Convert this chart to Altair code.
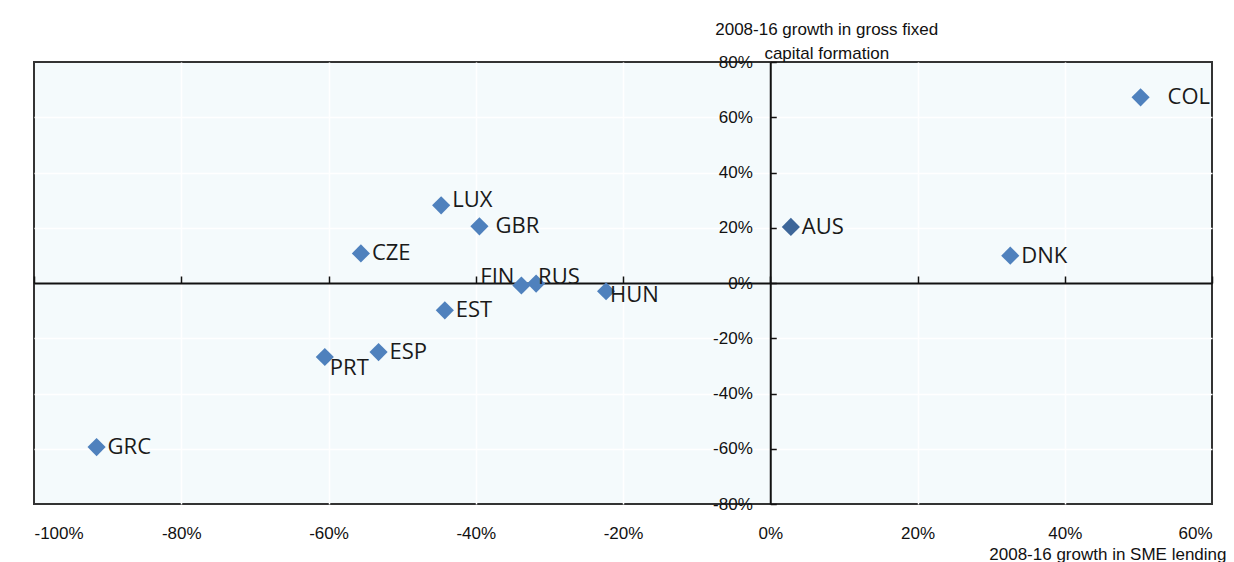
import altair as alt
import pandas as pd

# ---- data ----
countries = ["LUX", "GBR", "CZE", "FIN", "RUS", "HUN", "AUS", "DNK", "COL", "EST", "ESP", "PRT", "GRC"]
sme_lending_growth = [-44.7, -39.5, -55.6, -33.8, -31.8, -22.3, 2.8, 32.6, 50.3, -44.2, -53.2, -60.5, -91.5]
gfcf_growth = [28.1, 20.5, 10.7, -0.9, -0.2, -3.0, 20.3, 9.9, 67.2, -9.9, -25.0, -26.8, -59.4]

x_ticks = [-100, -80, -60, -40, -20, 0, 20, 40, 60]
y_ticks = [-80, -60, -40, -20, 0, 20, 40, 60, 80]
x_grid = [-80, -60, -40, -20, 20, 40]
y_grid = [-60, -40, -20, 20, 40, 60]
highlighted = ["AUS"]

x_title = "2008-16 growth in SME lending"
y_title = ["2008-16 growth in gross fixed", "capital formation"]

df = pd.DataFrame({"country": countries, "x": sme_lending_growth, "y": gfcf_growth})

W, H = 1178, 442
X_DOMAIN = [-100, 60]
Y_DOMAIN = [-80, 80]
X0 = W * (0 - X_DOMAIN[0]) / (X_DOMAIN[1] - X_DOMAIN[0])
Y0 = H * (Y_DOMAIN[1] - 0) / (Y_DOMAIN[1] - Y_DOMAIN[0])

AXIS_FONT = "Liberation Sans, Arial, sans-serif"
AXIS_SIZE = 17
LABEL_FONT = "Open Sans, Noto Sans, sans-serif"
pct = "datum.value + '%'"

xs = alt.Scale(domain=X_DOMAIN, nice=False, zero=False)
ys = alt.Scale(domain=Y_DOMAIN, nice=False, zero=False)

base = alt.Chart(df)

# grid-only layer
grid_layer = base.mark_point(opacity=0).encode(
    x=alt.X("x:Q", scale=xs, axis=alt.Axis(values=x_grid, grid=True, gridColor="white", gridWidth=1.5,
                                            labels=False, ticks=False, domain=False, title=None, orient="bottom")),
    y=alt.Y("y:Q", scale=ys, axis=alt.Axis(values=y_grid, grid=True, gridColor="white", gridWidth=1.5,
                                            labels=False, ticks=False, domain=False, title=None, orient="left")),
)

# labels + titles layer with the points
points = base.mark_point(shape="diamond", filled=True, size=330, opacity=1).encode(
    x=alt.X("x:Q", scale=xs, axis=alt.Axis(
        orient="bottom", values=x_ticks, labelExpr=pct, grid=False, ticks=False, tickSize=0, domain=False,
        labelFont=AXIS_FONT, labelFontSize=AXIS_SIZE, labelColor="#111", labelPadding=21,
        title=x_title, titleFont=AXIS_FONT, titleFontSize=AXIS_SIZE, titleFontWeight="normal", titleColor="#111",
        titleAlign="right", titleBaseline="middle", titleX=1192, titleY=50)),
    y=alt.Y("y:Q", scale=ys, axis=alt.Axis(
        orient="left", offset=-X0, values=y_ticks, labelExpr=pct, grid=False, ticks=False, tickSize=0,
        domain=False, labelFont=AXIS_FONT, labelFontSize=AXIS_SIZE, labelColor="#111", labelPadding=18,
        title=y_title, titleFont=AXIS_FONT, titleFontSize=AXIS_SIZE, titleFontWeight="normal", titleColor="#111",
        titleAngle=0, titleAlign="center", titleBaseline="alphabetic", titleLineHeight=24,
        titleX=56, titleY=-28)),
    color=alt.condition(alt.FieldOneOfPredicate(field="country", oneOf=highlighted),
                        alt.value("#3d6699"), alt.value("#4f81bd")),
)

# zero axes with ticks
tick_layer = base.mark_point(opacity=0).encode(
    x=alt.X("x:Q", scale=xs, axis=alt.Axis(
        orient="top", offset=-Y0, values=x_ticks, labels=False, grid=False, ticks=True, tickSize=7,
        tickColor="#111", tickWidth=1.5, domain=True, domainColor="#111", domainWidth=2, title=None)),
    y=alt.Y("y:Q", scale=ys, axis=alt.Axis(
        orient="right", offset=-(W - X0), values=y_ticks, labels=False, grid=False, ticks=True, tickSize=6,
        tickColor="#111", tickWidth=1.5, domain=True, domainColor="#111", domainWidth=2, title=None)),
)


def labels(names, **kw):
    props = dict(font=LABEL_FONT, fontSize=22, color="#1a1a1a", align="left", baseline="middle", clip=True)
    props.update(kw)
    return base.transform_filter(
        alt.FieldOneOfPredicate(field="country", oneOf=names)
    ).mark_text(**props).encode(
        x=alt.X("x:Q", scale=xs, axis=None),
        y=alt.Y("y:Q", scale=ys, axis=None),
        text="country:N",
    )


text_layers = [
    labels(["CZE", "AUS", "DNK", "EST", "ESP", "GRC"], dx=11),
    labels(["GBR"], dx=16),
    labels(["COL"], dx=27),
    labels(["LUX"], dx=11, dy=-5),
    labels(["FIN"], align="right", baseline="alphabetic", dx=-7, dy=-1),
    labels(["RUS"], baseline="alphabetic", dx=2, dy=0),
    labels(["HUN"], dx=4, dy=4),
    labels(["PRT"], dx=5, dy=11),
]

chart = alt.layer(grid_layer, tick_layer, points, *text_layers).resolve_axis(
    x="independent", y="independent"
).properties(
    width=W, height=H,
    autosize=alt.AutoSizeParams(type="none"),
    padding={"left": 26, "top": 54, "right": 14, "bottom": 58},
).configure_view(
    fill="#f4fafc", stroke="#333333", strokeWidth=2
)

chart.save("out.html", embed_options={"renderer": "svg", "actions": False})
